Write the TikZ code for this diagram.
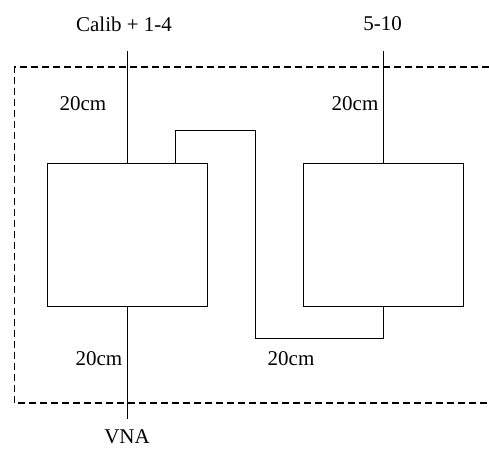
\documentclass[tikz,border=0pt]{standalone}
\usepackage{fontspec}
\setmainfont{Liberation Serif}
\begin{document}
\begin{tikzpicture}[x=1pt, y=-1pt, line width=0.9pt,
        box/.style={draw, minimum width=160pt, minimum height=143pt, inner sep=0pt},
        lbl/.style={font=\fontsize{21}{25}\selectfont, inner sep=0pt}]
        \useasboundingbox (0,0) rectangle (489,448);

        % Dashed enclosure (open on the right)
        \draw[line width=1.5pt, dash pattern=on 7pt off 4pt] (489,67) -- (14.5,67) -- (14.5,403) -- (489,403);

        % The two boxes
        \node[box] (left) at (127.5,235) {};
        \node[box] (right) at (383,235) {};

        % Port labels
        \node[lbl] (calib) at (124,24) {Calib + 1-4};
        \node[lbl] (ports) at (382.5,24) {5-10};
        \node[lbl] (vna) at (127,437) {VNA};
        \coordinate (calibend) at (127.5,51);
        \coordinate (portsend) at (383,51);
        \coordinate (vnaend) at (127.5,419);

        % Cables
        \draw (calibend) -- (left.north);
        \draw (portsend) -- (right.north);
        \draw (left.south) -- (vnaend);
        \draw ([xshift=47.5pt]left.north) -- ++(0,-32.5) -| (255,338.7) -| (right.south);

        % Cable lengths
        \node[lbl] (len1) at (83,104) {20cm};
        \node[lbl] (len2) at (355,104) {20cm};
        \node[lbl] (len3) at (99,359) {20cm};
        \node[lbl] (len4) at (291,359) {20cm};
    \end{tikzpicture}
\end{document}
